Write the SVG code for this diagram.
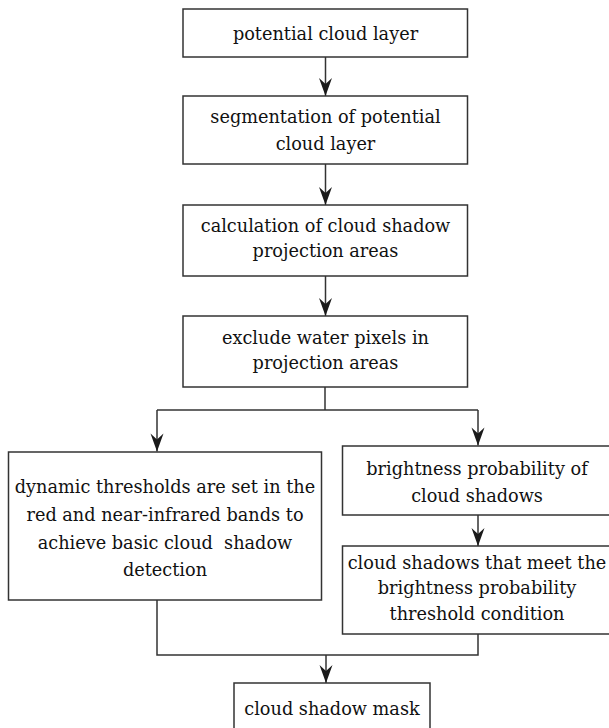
<svg xmlns="http://www.w3.org/2000/svg" width="609" height="728" viewBox="0 0 609 728">
<style>
.box{fill:#fff;stroke:#333;stroke-width:1.5}
.t{font-family:"DejaVu Serif","Liberation Serif",serif;font-size:17.7px;fill:#111;text-anchor:middle}
.c{fill:none;stroke:#333;stroke-width:1.5}
</style>
<defs>
<marker id="ah" markerUnits="userSpaceOnUse" markerWidth="20" markerHeight="14" viewBox="-19 -7 20 14" refX="0" refY="0" orient="auto">
<path d="M0,0 L-18,-6.5 L-12,0 L-18,6.5 Z" fill="#1a1a1a"/>
</marker>
</defs>
<rect width="609" height="728" fill="#fff"/>
<g id="connectors">
<line class="c" x1="325.5" y1="57" x2="325.5" y2="96" marker-end="url(#ah)"/>
<line class="c" x1="325.5" y1="164" x2="325.5" y2="205" marker-end="url(#ah)"/>
<line class="c" x1="325.5" y1="276" x2="325.5" y2="316" marker-end="url(#ah)"/>
<polyline class="c" points="325,387 325,410"/>
<polyline class="c" points="157,410 478,410"/>
<line class="c" x1="157" y1="410" x2="157" y2="451.5" marker-end="url(#ah)"/>
<line class="c" x1="478" y1="410" x2="478" y2="445.5" marker-end="url(#ah)"/>
<line class="c" x1="478" y1="515" x2="478" y2="546" marker-end="url(#ah)"/>
<polyline class="c" points="157,600 157,655 478,655 478,634"/>
<line class="c" x1="326" y1="655" x2="326" y2="683" marker-end="url(#ah)"/>
</g>
<g id="n1">
<rect class="box" x="183" y="9" width="284.5" height="48"/>
<text class="t" x="325.5" y="40">potential cloud layer</text>
</g>
<g id="n2">
<rect class="box" x="183" y="96" width="284.5" height="68"/>
<text class="t" x="325.5" y="123">segmentation of potential</text>
<text class="t" x="325.5" y="149.5">cloud layer</text>
</g>
<g id="n3">
<rect class="box" x="183" y="205" width="284.5" height="71"/>
<text class="t" x="325.5" y="232">calculation of cloud shadow</text>
<text class="t" x="325.5" y="257">projection areas</text>
</g>
<g id="n4">
<rect class="box" x="183" y="316" width="284.5" height="71"/>
<text class="t" x="325.5" y="343.5">exclude water pixels in</text>
<text class="t" x="325.5" y="368.5">projection areas</text>
</g>
<g id="n5">
<rect class="box" x="8.5" y="452" width="313" height="148"/>
<text class="t" x="165" y="493">dynamic thresholds are set in the</text>
<text class="t" x="165" y="521">red and near-infrared bands to</text>
<text class="t" x="165" y="548.5" xml:space="preserve" style="white-space:pre">achieve basic cloud  shadow</text>
<text class="t" x="165" y="576">detection</text>
</g>
<g id="n6">
<rect class="box" x="342.5" y="446" width="280" height="69"/>
<text class="t" x="477" y="475">brightness probability of</text>
<text class="t" x="477" y="502">cloud shadows</text>
</g>
<g id="n7">
<rect class="box" x="342.5" y="546" width="280" height="88"/>
<text class="t" x="477" y="568.5">cloud shadows that meet the</text>
<text class="t" x="477" y="594">brightness probability</text>
<text class="t" x="477" y="620">threshold condition</text>
</g>
<g id="n8">
<rect class="box" x="234" y="683" width="196" height="60"/>
<text class="t" x="332" y="715">cloud shadow mask</text>
</g>
</svg>
